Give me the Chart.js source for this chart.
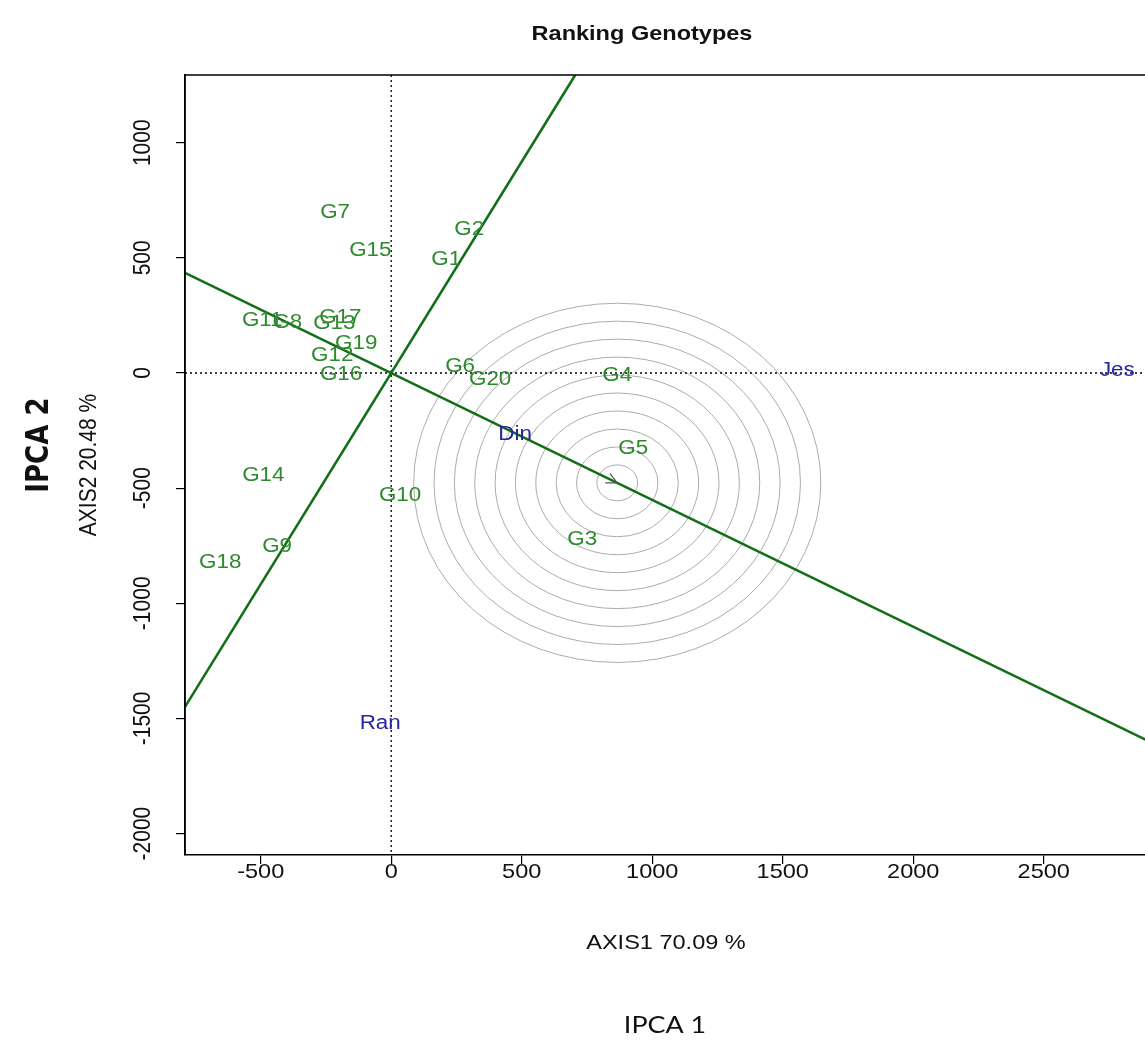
<!DOCTYPE html>
<html>
<head>
<meta charset="utf-8">
<script src="https://cdn.jsdelivr.net/npm/chart.js@4"></script>
<style>
  body { margin: 0; background: #fff; }
  #wrap { width: 1145px; height: 1057px; }
</style>
</head>
<body>
<div id="wrap"><canvas id="gge" width="1145" height="1057"></canvas></div>
<script>
// genotype scores
var genotypes = ["G1","G2","G3","G4","G5","G6","G7","G8","G9","G10",
                 "G11","G12","G13","G14","G15","G16","G17","G18","G19","G20"];
var genoX = [211, 299, 732, 866, 927, 264, -215, -398, -437, 34,
             -494, -226, -218, -490, -80, -192, -195, -655, -134, 379];
var genoY = [495, 625, -725, -9, -326, 30, 699, 221, -755, -534,
             230, 74, 213, -447, 530, -5, 243, -821, 130, -26];

// environments
var envNames = ["Din", "Jes", "Ran"];
var envX = [475, 2782, -42];
var envY = [-269, 13, -1524];

// average environment axis and its perpendicular
var aeaX = [-790, 2890];
var aeaY = [435, -1592];
var ordX = [-790, 705];
var ordY = [-1450, 1294];

// ideal genotype rings
var ringCenter = [866, -477];
var ringRadii = [78, 156, 234, 312, 390, 468, 546, 624, 702, 780];

var xTicks = [-500, 0, 500, 1000, 1500, 2000, 2500];
var yTicks = [-2000, -1500, -1000, -500, 0, 500, 1000];

var SX = 1.12; // the picture is a bit wider than tall
var geneCol = "#2f8a2f";
var envCol = "#2626a0";
var lineCol = "#136f17";

function stext(ctx, txt, x, y, font, color, rot) {
  ctx.save();
  ctx.translate(x, y);
  ctx.scale(SX, 1);
  if (rot) ctx.rotate(-Math.PI / 2);
  ctx.font = font;
  ctx.fillStyle = color;
  ctx.textAlign = "center";
  ctx.textBaseline = "middle";
  ctx.fillText(txt, 0, 0);
  ctx.restore();
}

var genoPts = [];
for (var i = 0; i < genotypes.length; i++) genoPts.push({x: genoX[i], y: genoY[i]});
var envPts = [];
for (var i = 0; i < envNames.length; i++) envPts.push({x: envX[i], y: envY[i]});
var aeaPts = [{x: aeaX[0], y: aeaY[0]}, {x: aeaX[1], y: aeaY[1]}];
var ordPts = [{x: ordX[0], y: ordY[0]}, {x: ordX[1], y: ordY[1]}];

var bgPlugin = {
  id: "bg",
  beforeDatasetsDraw: function(chart) {
    var ctx = chart.ctx, a = chart.chartArea;
    var xs = chart.scales.x, ys = chart.scales.y;
    ctx.save();
    ctx.beginPath();
    ctx.rect(a.left, a.top, a.right - a.left, a.bottom - a.top);
    ctx.clip();
    // rings
    var cx = xs.getPixelForValue(ringCenter[0]);
    var cy = ys.getPixelForValue(ringCenter[1]);
    ctx.strokeStyle = "#ababab";
    ctx.lineWidth = 1;
    for (var k = 0; k < ringRadii.length; k++) {
      var rx = Math.abs(xs.getPixelForValue(ringCenter[0] + ringRadii[k]) - cx);
      var ry = Math.abs(ys.getPixelForValue(ringCenter[1] + ringRadii[k]) - cy);
      ctx.beginPath();
      ctx.ellipse(cx, cy, rx, ry, 0, 0, Math.PI * 2);
      ctx.stroke();
    }
    // dotted zero lines
    ctx.strokeStyle = "#000";
    ctx.lineWidth = 1.3;
    ctx.setLineDash([2, 3]);
    var x0 = xs.getPixelForValue(0), y0 = ys.getPixelForValue(0);
    ctx.beginPath();
    ctx.moveTo(x0, a.top); ctx.lineTo(x0, a.bottom);
    ctx.moveTo(a.left, y0); ctx.lineTo(a.right, y0);
    ctx.stroke();
    ctx.restore();
  },
  afterDatasetsDraw: function(chart) {
    var ctx = chart.ctx, a = chart.chartArea;
    var xs = chart.scales.x, ys = chart.scales.y;
    // arrow head at the mean environment
    var x0 = xs.getPixelForValue(0), y0 = ys.getPixelForValue(0);
    var cx = xs.getPixelForValue(ringCenter[0]), cy = ys.getPixelForValue(ringCenter[1]);
    var ang = Math.atan2(cy - y0, cx - x0);
    ctx.save();
    ctx.strokeStyle = "#555";
    ctx.lineWidth = 1.2;
    ctx.beginPath();
    ctx.moveTo(cx - 12 * Math.cos(ang - 0.45), cy - 12 * Math.sin(ang - 0.45));
    ctx.lineTo(cx, cy);
    ctx.lineTo(cx - 12 * Math.cos(ang + 0.45), cy - 12 * Math.sin(ang + 0.45));
    ctx.stroke();
    ctx.restore();

    // labels
    var gm = chart.getDatasetMeta(0);
    gm.data.forEach(function(el, i) {
      stext(ctx, genotypes[i], el.x, el.y, "20px 'Liberation Sans', Arial, sans-serif", geneCol);
    });
    var em = chart.getDatasetMeta(1);
    em.data.forEach(function(el, i) {
      stext(ctx, envNames[i], el.x, el.y, "20px 'Liberation Sans', Arial, sans-serif", envCol);
    });

    // box (top + left, right side is off the picture)
    ctx.save();
    ctx.strokeStyle = "#000";
    ctx.lineWidth = 1.5;
    ctx.beginPath();
    ctx.moveTo(a.right, a.top); ctx.lineTo(a.left, a.top); ctx.lineTo(a.left, a.bottom);
    ctx.stroke();
    ctx.restore();
  },
  afterDraw: function(chart) {
    var ctx = chart.ctx;
    var xs = chart.scales.x, ys = chart.scales.y;
    var tf = "21px 'Liberation Sans', Arial, sans-serif";
    xTicks.forEach(function(v) {
      stext(ctx, String(v), xs.getPixelForValue(v), 872, tf, "#111");
    });
    yTicks.forEach(function(v) {
      stext(ctx, String(v), 144, ys.getPixelForValue(v), tf, "#111", true);
    });
    stext(ctx, "Ranking Genotypes", 642, 34, "bold 21px 'Liberation Sans', Arial, sans-serif", "#111");
    stext(ctx, "AXIS1 70.09 %", 666, 943, tf, "#111");
    stext(ctx, "AXIS2 20.48 %", 90, 465, tf, "#111", true);
    stext(ctx, "IPCA 2", 40, 445, "bold 29px 'Liberation Sans Narrow', 'DejaVu Sans Condensed', sans-serif", "#111", true);
    stext(ctx, "IPCA 1", 665, 1025, "24px Lato, 'Open Sans', sans-serif", "#111");
  }
};

new Chart(document.getElementById("gge"), {
  type: "scatter",
  data: {
    datasets: [
      { data: genoPts, pointRadius: 0, pointHoverRadius: 0 },
      { data: envPts, pointRadius: 0, pointHoverRadius: 0 },
      { type: "line", data: aeaPts, borderColor: lineCol, borderWidth: 2.6, pointRadius: 0, fill: false },
      { type: "line", data: ordPts, borderColor: lineCol, borderWidth: 2.6, pointRadius: 0, fill: false }
    ]
  },
  options: {
    responsive: false,
    animation: false,
    events: [],
    layout: { padding: { top: 75, left: 0, right: 0, bottom: 0 } },
    plugins: { legend: { display: false }, tooltip: { enabled: false } },
    scales: {
      x: {
        type: "linear", min: -790, max: 2888,
        afterBuildTicks: function(s) { s.ticks = xTicks.map(function(v) { return {value: v}; }); },
        afterFit: function(s) { s.height = 202; },
        ticks: { display: false },
        grid: { drawOnChartArea: false, drawTicks: true, tickLength: 9, color: "#000", lineWidth: 1.2 },
        border: { display: true, color: "#000", width: 1.5 }
      },
      y: {
        type: "linear", min: -2093, max: 1294,
        afterBuildTicks: function(s) { s.ticks = yTicks.map(function(v) { return {value: v}; }); },
        afterFit: function(s) { s.width = 185; },
        ticks: { display: false },
        grid: { drawOnChartArea: false, drawTicks: true, tickLength: 9, color: "#000", lineWidth: 1.2 },
        border: { display: true, color: "#000", width: 1.5 }
      }
    }
  },
  plugins: [bgPlugin]
});
</script>
</body>
</html>
